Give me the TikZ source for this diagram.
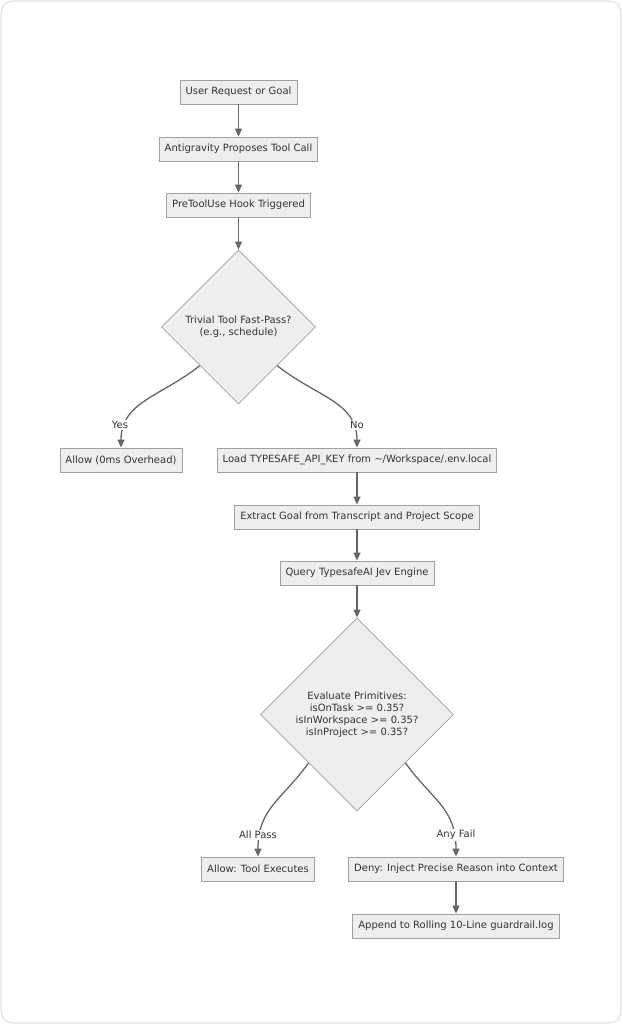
\documentclass[tikz,border=0pt]{standalone}
\usepackage{fontspec}
\setmainfont{DejaVu Sans}
\usetikzlibrary{shapes.geometric,arrows.meta}
\definecolor{nodefill}{HTML}{EEEEEE}
\definecolor{nodeline}{HTML}{A0A0A0}
\definecolor{edgeline}{HTML}{666666}
\definecolor{txt}{HTML}{333333}
\definecolor{framecol}{HTML}{E3E3E3}
\begin{document}
\begin{tikzpicture}[x=1pt,y=-1pt,
  box/.style={draw=nodeline, fill=nodefill, line width=0.8pt, minimum height=24pt, inner xsep=5.5pt, inner ysep=0pt, text=txt, font=\fontsize{10}{12}\selectfont},
  decision/.style={diamond, draw=nodeline, fill=nodefill, line width=0.8pt, inner sep=0pt, aspect=1, text=txt, align=center, font=\fontsize{10}{12}\selectfont},
  flow/.style={draw=edgeline, line width=1.3pt, -{Triangle[width=7pt,length=8pt]}},
  elabel/.style={fill=white, inner sep=1pt, text=txt, font=\fontsize{10}{12}\selectfont}]
\path[use as bounding box] (0,0) rectangle (622,1024);
\draw[framecol, line width=1.2pt, rounded corners=12pt] (1,1) rectangle (621,1023);

\node[box] (req) at (238.5,92) {User Request or Goal};
\node[box] (prop) at (238.5,149) {Antigravity Proposes Tool Call};
\node[box] (hook) at (238.5,205) {PreToolUse Hook Triggered};
\node[decision, minimum width=154pt, minimum height=154pt] (fast) at (238.5,327) {Trivial Tool Fast-Pass?\\(e.g., schedule)};
\node[box] (allow0) at (121,460) {Allow (0ms Overhead)};
\node[box] (load) at (357,460) {Load TYPESAFE\_API\_KEY from \textasciitilde/Workspace/.env.local};
\node[box] (goal) at (357,517) {Extract Goal from Transcript and Project Scope};
\node[box] (query) at (357,573) {Query TypesafeAI Jev Engine};
\node[decision, minimum width=193pt, minimum height=193pt] (eval) at (357,714.5) {Evaluate Primitives:\\isOnTask >= 0.35?\\isInWorkspace >= 0.35?\\isInProject >= 0.35?};
\node[box] (allow) at (258,869) {Allow: Tool Executes};
\node[box] (deny) at (456,869) {Deny: Inject Precise Reason into Context};
\node[box] (append) at (456,926) {Append to Rolling 10-Line guardrail.log};

\draw[flow] (req) -- (prop);
\draw[flow] (prop) -- (hook);
\draw[flow] (hook) -- (fast);
\draw[flow] (fast.south west) .. controls (160,397) and (121,402) .. (allow0.north);
\draw[flow] (fast.south east) .. controls (317,397) and (357,402) .. (load.north);
\draw[flow] (load) -- (goal);
\draw[flow] (goal) -- (query);
\draw[flow] (query) -- (eval);
\draw[flow] (eval.south west) .. controls (282,800) and (258,808) .. (allow.north);
\draw[flow] (eval.south east) .. controls (432,800) and (456,808) .. (deny.north);
\draw[flow] (deny) -- (append);

\node[elabel] (lyes) at (120,425) {Yes};
\node[elabel] (lno) at (357,425) {No};
\node[elabel] (lpass) at (258,835) {All Pass};
\node[elabel] (lfail) at (456,835) {Any Fail};
\end{tikzpicture}
\end{document}
